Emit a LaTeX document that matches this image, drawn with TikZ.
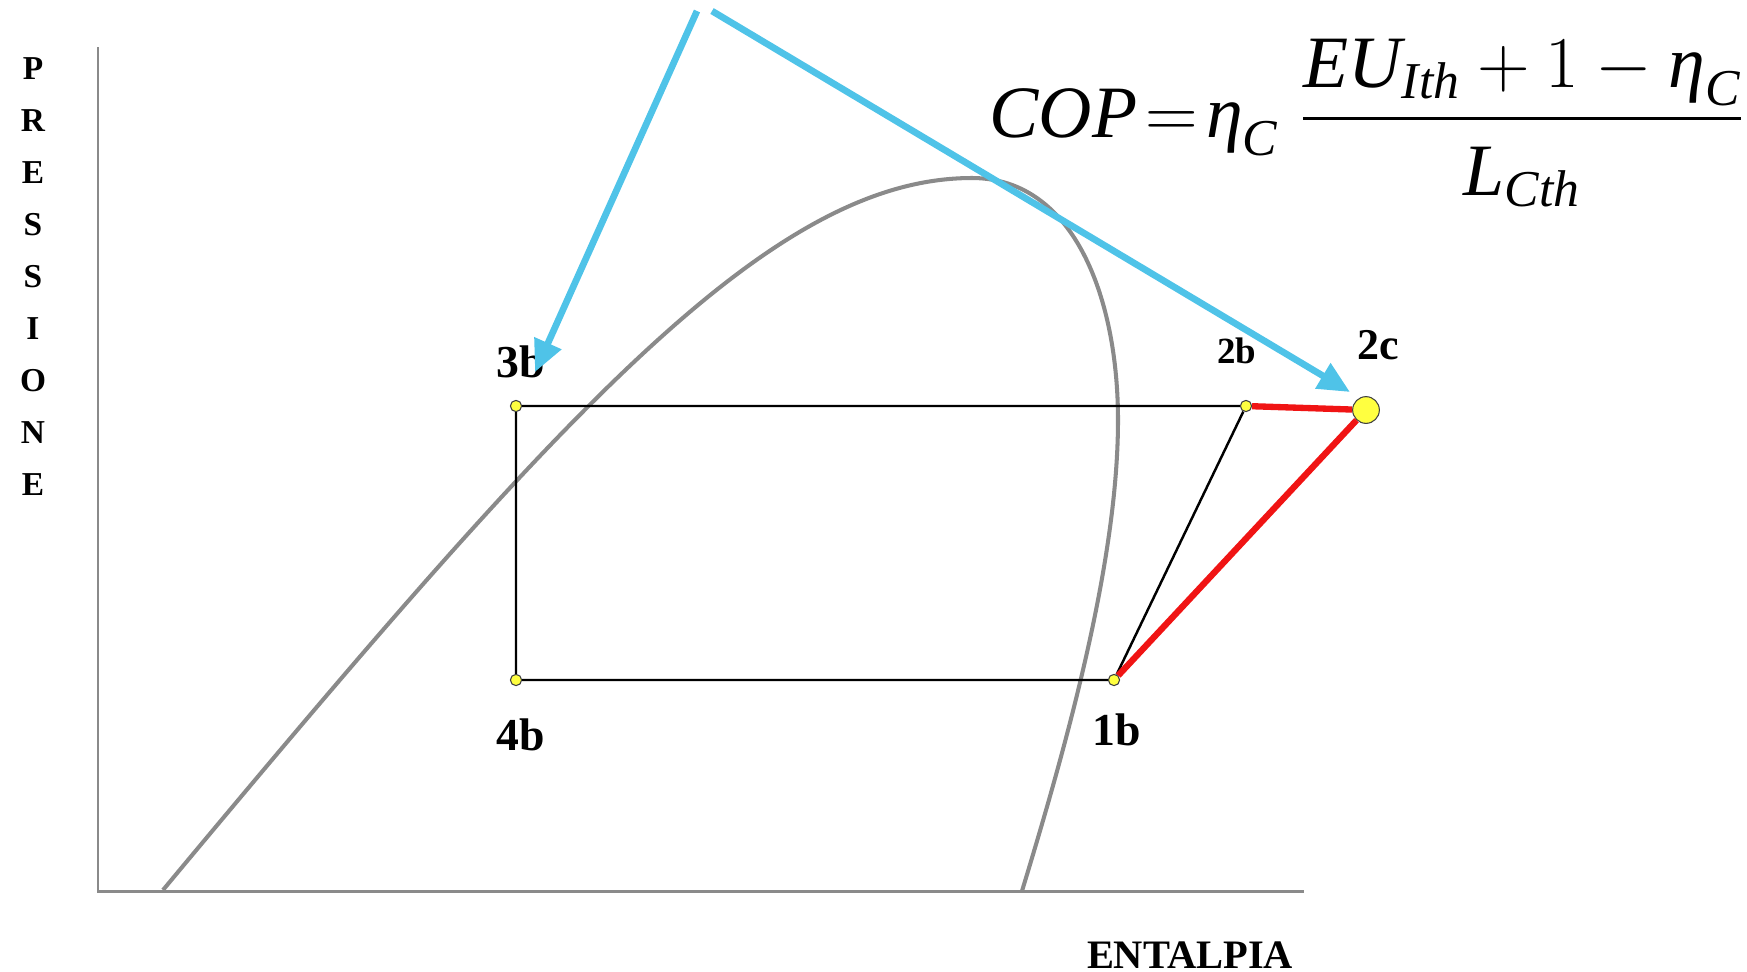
\documentclass[tikz,border=0pt]{standalone}
\usepackage{amsmath}
\usepackage{fontspec}
\setmainfont{Liberation Serif}
\usetikzlibrary{arrows.meta}
\definecolor{satgray}{HTML}{8A8A8A}
\definecolor{arrblue}{HTML}{4FC3E8}
\definecolor{ptyellow}{HTML}{FFFF40}
\definecolor{cyred}{HTML}{F01414}

\begin{document}
\begin{tikzpicture}[x=0.01cm, y=-0.01cm, >={Triangle[length=9pt,width=8pt]},
  pt/.style={circle, draw=black!75, line width=0.3pt, fill=ptyellow, inner sep=0pt, minimum size=3.2pt},
  lbl/.style={font=\bfseries\fontsize{13}{15}\selectfont},
  axlbl/.style={font=\bfseries\fontsize{9.5}{11}\selectfont}]
  \useasboundingbox (0,0) rectangle (1747,972);
  % axes
  \coordinate (O) at (98,891);
  \draw[satgray, line width=0.85pt] (98,47) -- (O) -- (1304,891);
  \foreach \l [count=\i] in {P,R,E,S,S,I,O,N,E}
    \node[axlbl] (p\i) at (33,{17+52*\i}) {\l};
  \node[axlbl, font=\bfseries\fontsize{11.5}{13}\selectfont] (hlab) at (1190,955) {ENTALPIA};
  % saturation dome
  \draw[satgray, line width=1.15pt] (163,890) .. controls (563,410) and (772,178) .. (972,178)
    .. controls (1075,178) and (1118,300) .. (1118,420)
    .. controls (1118,560) and (1068,740) .. (1022,891);
  % cycle
  \node[pt] (3b) at (516,406) {};
  \node[pt] (2b) at (1246,406) {};
  \node[pt] (4b) at (516,680) {};
  \node[pt] (1b) at (1114,680) {};
  \node[pt, minimum size=7.6pt] (2c) at (1366,410) {};
  \draw[black, line width=0.7pt] (3b) -- (2b) (3b) -- (4b) -- (1b) -- (2b);
  \draw[cyred, line width=1.8pt] (2b) -- (2c) -- (1b);
  \node[lbl] (l3b) at (521,362) {3b};
  \node[lbl, font=\bfseries\fontsize{10.5}{12}\selectfont] (l2b) at (1237,351) {2b};
  \node[lbl, font=\bfseries\fontsize{12.5}{14}\selectfont] (l2c) at (1378,345) {2c};
  \node[lbl] (l4b) at (521,735) {4b};
  \node[lbl] (l1b) at (1117,730) {1b};
  % arrows from above
  \coordinate (top1) at (697,11);
  \coordinate (top2) at (712,11);
  \coordinate (tip3b) at (535,372);
  \coordinate (tip2c) at (1350,392);
  \draw[->, arrblue, line width=1.9pt] (top1) -- (tip3b);
  \draw[->, arrblue, line width=1.9pt] (top2) -- (tip2c);
  \node[anchor=base west, inner sep=0pt, font=\fontsize{21}{25}\selectfont] (cop) at (989,137)
    {\thickmuskip=2mu \medmuskip=4mu
     $\textit{COP}=\textit{η}_{\textit{C}}\;\,\dfrac{\textit{EU}_{\textit{Ith}}+1-\textit{η}_{\textit{C}}}{\rule{0pt}{0.9em}\textit{L}_{\textit{Cth}}}$};
\end{tikzpicture}
\end{document}
